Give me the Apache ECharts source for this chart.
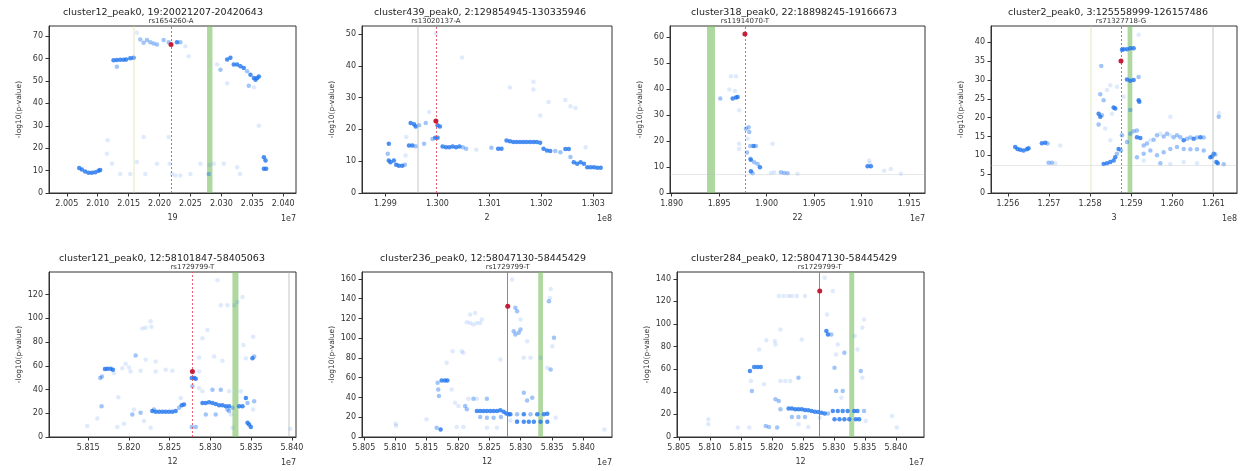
<!DOCTYPE html>
<html><head><meta charset="utf-8">
<script src="https://cdn.jsdelivr.net/npm/echarts@6/dist/echarts.min.js"></script>
<style>html,body{margin:0;padding:0;background:#fff}#c{width:1243px;height:471px}</style>
</head><body><div id="c"></div>
<script>
// ---------------- DATA ----------------
const titles = ['cluster12_peak0, 19:20021207-20420643','cluster439_peak0, 2:129854945-130335946','cluster318_peak0, 22:18898245-19166673','cluster2_peak0, 3:125558999-126157486','cluster121_peak0, 12:58101847-58405063','cluster236_peak0, 12:58047130-58445429','cluster284_peak0, 12:58047130-58445429'];
const rsLabels = ['rs1654260-A','rs13020137-A','rs11914070-T','rs71327718-G','rs1729799-T','rs1729799-T','rs1729799-T'];
const chromNames = ['19','2','22','3','12','12','12'];
const regionStart = [20021207,129854945,18898245,125558999,58101847,58047130,58047130];
const regionEnd = [20420643,130335946,19166673,126157486,58405063,58445429,58445429];
const leadPos = [20218500,129997100,18977100,125875200,58277900,58279300,58277300];
const leadLogP = [66.3,22.6,61.3,35.0,55.2,132.4,129.1];
const greenBands = [[20276800,20285500],null,[18937200,18945600],[125891400,125902800],[58327000,58334400],[58327900,58335400],[58324900,58332900]];
const yMax = [74.5,52.5,64.4,44.3,139,167,146];
const yTicks = [[0,10,20,30,40,50,60,70],[0,10,20,30,40,50],[0,10,20,30,40,50,60],[0,5,10,15,20,25,30,35,40],[0,20,40,60,80,100,120],[0,20,40,60,80,100,120,140,160],[0,20,40,60,80,100,120,140]];
const xTicks = [
 [20050000,20100000,20150000,20200000,20250000,20300000,20350000,20400000],
 [129900000,130000000,130100000,130200000,130300000],
 [18900000,18950000,19000000,19050000,19100000,19150000],
 [125600000,125700000,125800000,125900000,126000000,126100000],
 [58150000,58200000,58250000,58300000,58350000,58400000],
 [58050000,58100000,58150000,58200000,58250000,58300000,58350000,58400000],
 [58050000,58100000,58150000,58200000,58250000,58300000,58350000,58400000]];
const xExp = [7,8,7,8,7,7,7];
// faint extra vertical marks [pos, kind]
const extraLines = [[[20158000,'y']],[[129961500,'g']],[],[[125802100,'y'],[126099200,'g']],[[58396700,'g']],[],[]];
// panels showing the faint significance line
const showSig = [false,false,true,true,false,false,false];
// points: [position, -log10(p), strength class 1..3]
const points1 = [[20070000,11.1,3],[20074300,10.5,3],[20079700,9.6,3],[20085100,9.0,3],[20090500,9.0,3],[20096000,9.3,3],[20101300,9.9,3],[20104000,10.3,3],
[20114800,17.5,1],[20116000,23.5,1],[20123000,13,1],[20136400,8.5,1],[20152600,8.5,1],[20163400,13.8,1],[20177000,8.5,1],[20174200,25,1],[20195800,13,1],[20214700,25,1],[20216400,13,1],[20220000,8.5,1],[20225500,7.8,1],[20233600,7.8,1],[20250000,8.5,1],[20266000,13,1],[20287600,13,1],[20303800,13,1],[20330000,8.5,1],[20325400,11.5,1],
[20125600,59.2,3],[20131000,59.3,3],[20136400,59.4,3],[20141800,59.4,3],[20146000,59.6,3],[20131000,56.3,2],[20152600,60.1,3],[20158000,60.3,3],
[20163400,71.5,1],[20168800,68.5,2],[20174200,67,2],[20179600,68.2,2],[20185000,67.3,2],[20190400,66.7,2],[20195800,66.3,2],[20206600,68.2,2],[20214700,67.3,2],
[20228200,67.3,3],[20233600,67.3,2],[20241700,65.5,1],[20247100,61,1],
[20309300,59.5,3],[20314600,60.3,3],[20320000,57.3,3],[20325400,57.3,3],[20330800,56.5,3],[20336200,55.8,3],[20341600,54.3,2],[20347000,52.8,3],[20352500,51.3,3],[20355200,50.5,3],[20357900,51.3,3],[20360600,52,3],[20344300,47.8,2],[20352500,47.2,1],[20298500,55,2],[20309300,49,1],[20293000,57.3,1],
[20368700,16,3],[20371400,14.5,3],[20368700,10.8,3],[20372400,10.8,3],[20360600,30,1],
[20279500,8.5,2],[20280500,12.5,1]];
const points2 = [[129906500,15.5,3],[129904500,12.3,2],[129906500,10.2,3],[129909700,9.7,3],[129916200,10.2,3],[129920700,8.9,3],[129925900,8.6,3],[129932400,8.6,3],[129937500,8.9,2],
[129938800,11.8,1],[129940100,17.6,1],
[129948500,22,3],[129955000,21.6,3],[129958200,20.9,3],[129964700,21.3,2],
[129945300,14.9,3],[129951800,14.9,3],[129958200,14.7,2],
[129974400,15.5,2],[129977600,22,2],[129984100,25.5,1],
[129990600,17,2],[129995800,17.4,3],[130000300,17.4,3],
[130000300,21.3,3],[130004800,20.9,3],[129997100,50.2,1],
[130010000,14.6,3],[130016500,14.4,3],[130022900,14.4,3],[130029400,14.6,3],[130035900,14.4,3],[130042400,14.6,3],[130048900,14.4,2],[130055300,13.9,2],
[130047600,42.6,1],[130074700,13.6,1],
[130103900,14.2,2],[130116800,13.9,3],[130123300,13.9,3],
[130133000,16.5,3],[130139500,16.3,3],[130146000,16,3],[130152400,16,3],[130158900,16,3],[130165400,16,3],[130171800,16,3],[130178300,16,3],[130184800,16,3],[130191200,16,3],[130197700,15.8,3],
[130139500,33.2,1],[130184800,35,1],[130184800,32.5,1],[130197700,24.4,1],[130213900,28.6,1],[130246200,29.2,1],[130256000,27.3,1],[130265700,26.7,1],
[130204200,13.9,3],[130210700,13.4,3],[130217100,13.2,3],[130226800,13.2,2],[130236600,12.8,2],[130246200,13.8,3],[130252700,13.8,3],
[130256000,11.3,2],[130262400,9.7,3],[130268900,9.2,3],[130275400,9.7,3],[130281900,9.2,3],
[130285100,14.4,1],
[130288300,8.1,3],[130294800,8.1,3],[130301300,8.1,3],[130307700,7.9,3],[130314200,7.9,3]];
const points3 = [[18951200,36.4,2],[18960700,39.9,1],[18962400,45,1],[18967700,45,1],[18964200,36.4,3],[18967700,36.8,3],[18969400,37,3],[18966600,39.3,1],[18971000,31.9,1],[18971000,19,1],[18971000,17,1],
[18978200,24.8,2],[18981000,25.4,2],[18981700,23.5,2],[18979900,20.9,1],[18982700,18.1,2],[18986200,18.1,3],[18988700,18.1,2],
[18979200,15.6,2],[18982700,13.2,2],[18983400,12.8,3],[18986900,11.9,2],[18990500,11.2,2],[18992900,9.9,3],[18983400,8.4,3],[18985200,7.6,2],
[19004500,7.7,1],[19008000,8,1],[19006200,19,1],[19015000,8,2],[19018500,7.7,2],[19022000,7.6,2],[19032500,7.4,1],
[19106200,10.3,3],[19109700,10.3,3],[19107900,12.5,1],[19108500,11.5,1],[19123700,8.6,1],[19130700,9.3,1],[19141200,7.4,1]];
const points4 = [[125617900,12.2,3],[125623500,11.7,3],[125630000,11.5,3],[125638100,11.3,3],[125646300,11.6,3],[125650300,11.9,3],
[125682800,13.2,3],[125690900,13.3,3],[125696600,13.1,2],[125727400,12.6,1],
[125699000,8,2],[125707100,8,2],[125715300,7.9,1],
[125827300,33.7,2],
[125820800,21,3],[125824800,20.2,3],[125828900,20.6,2],[125820800,18.2,2],
[125824800,26.2,2],[125833000,24.6,2],[125841100,27.3,1],[125849200,28.6,1],
[125857300,22.7,3],[125861300,22.4,3],
[125833000,7.7,3],[125841100,7.9,3],[125849200,8.2,3],[125857300,8.6,3],[125861300,9.5,3],[125865400,10.4,2],[125869500,11.7,3],[125875200,11.3,2],
[125877600,38,3],[125881700,38.1,3],[125889800,38.1,3],[125897900,38.4,3],[125906000,38.4,3],
[125889800,30.1,3],[125897900,29.8,3],[125906000,30,3],
[125918200,42,1],[125918200,30.8,2],
[125897900,22,2],[125897900,15.7,2],[125906000,16.4,2],[125914100,16.6,2],
[125918200,24.6,3],[125919800,24.2,3],
[125914100,14.8,3],[125922200,14.6,3],
[125930400,12.6,2],[125938500,13.1,2],[125946600,14,1],[125954700,14.1,2],[125962800,15.3,2],[125971000,15.7,1],[125979100,15,2],[125987200,15.7,2],[125995300,15.3,1],[126003400,14.8,2],[126011500,15.3,2],
[126019600,14.8,2],[126027800,14,3],[126035900,14.4,2],[126044000,14.7,2],[126052100,14.4,3],[126060200,14.7,2],[126068400,14.8,3],[126076500,14.7,2],
[125930400,10.4,2],[125946600,11.3,2],[125962800,10,2],[125979100,10.8,2],[125995300,11.7,2],[126011500,12.2,2],[126027800,11.7,2],[126044000,11.6,2],[126060200,11.6,2],[126076500,11.3,2],
[125914100,9.5,2],[125930400,8.6,1],[125971000,7.9,2],[125995300,7.7,1],[126027800,8.2,1],[126060200,7.9,1],
[125995300,20.2,1],
[126092700,9.5,3],[126096800,9.7,3],[126100800,10.4,3],[126104900,10.2,2],[126107300,8.2,3],[126110600,7.9,3],[126113000,20.2,2],[126113800,21.2,1],[126125200,7.6,2],
[125881700,25.5,1],[125865400,28.2,1],[125853300,21,1],[125877600,15.3,2],[125889800,13.5,2],[125849200,14,1],[125836900,17.1,1]];
const points5 = [[58148800,9.2,1],[58161100,15.6,1],[58166400,26,2],[58164800,49.7,2],[58166800,51,2],
[58170500,57.2,3],[58173400,57.5,3],[58177500,57.5,3],[58180300,56.6,3],[58181600,53.8,1],
[58186900,33.5,1],[58185700,8.4,1],[58194000,11.2,1],
[58191800,58,1],[58195900,61.4,1],[58200000,58.6,1],[58208200,68.6,2],[58204100,19,2],[58206100,23.2,1],
[58202000,55.2,1],[58214300,55.8,1],[58216400,91.5,1],[58220500,92,1],[58226600,97.6,1],[58227500,92.9,1],
[58220500,65,1],[58232800,63.6,1],[58232800,55.2,1],[58245100,56.6,1],[58253300,55.8,1],
[58214300,20.4,2],[58218400,13.4,1],[58226600,7.8,1],
[58228700,21.8,3],[58230700,23.2,2],[58232800,21.2,3],[58236900,21.2,3],[58241000,21.2,3],[58245100,21.2,3],[58249200,21.2,3],[58253300,21.2,3],[58257400,21.8,3],
[58261500,24.6,2],[58264700,26.8,3],[58267600,27.3,3],[58263500,32.9,1],
[58277100,49.7,3],[58280000,49.7,3],[58282000,49.1,3],[58277900,42.7,2],[58286100,41.3,1],[58290200,38.5,1],[58286100,55.2,1],
[58277100,8.4,2],[58282000,8.4,2],
[58286100,67,1],[58290200,83.1,1],[58296300,90.1,1],[58304500,67.8,1],[58308600,132,1],[58312700,111,1],[58320900,111,1],[58314700,64.2,1],[58329100,111,1],[58333200,113.8,1],[58339400,118,1],[58340500,77.6,1],[58343500,66.4,1],[58352400,84.5,1],
[58290200,28.7,3],[58294300,28.7,3],[58298400,29.3,3],[58302500,28.7,3],[58306500,27.9,3],[58310600,26.8,3],[58314700,26.8,3],[58318800,25.9,3],[58322900,25.9,3],[58327000,24.6,2],[58335200,25.9,3],[58339400,25.9,3],
[58320900,23.2,2],[58322900,21.8,2],
[58302500,39.9,2],[58312700,39.9,2],[58322900,38.5,1],[58337300,38.5,1],[58343500,32.9,3],[58345500,28.7,2],
[58306500,19,2],[58294300,19,2],
[58345500,12,3],[58347500,10.6,3],[58349600,8.4,3],
[58353700,30.1,2],[58352400,23.2,1],
[58351600,66.4,3],[58353700,67.8,2],
[58327000,7.8,1],[58398000,7,1],[58325000,19,1]];
const points6 = [[58100800,13.5,1],[58101500,11.5,1],[58149900,17.9,1],
[58166000,9.4,2],[58172400,7.7,3],
[58167600,54.9,2],[58168600,48.2,2],[58169700,41.4,2],
[58174000,57.3,3],[58179300,57.3,3],[58183100,57.3,3],
[58182000,75.1,1],[58191600,86.9,1],[58190000,48.2,1],
[58195400,34.7,1],[58200700,31.3,1],[58206000,86.9,1],[58208700,85.2,1],
[58211400,31.3,2],[58214100,28,2],
[58214100,116.2,1],[58219400,115.5,1],[58224700,113.8,1],[58230100,115.5,1],[58235400,115.5,1],[58238100,118.9,1],[58219400,123.9,1],[58227400,125.6,1],
[58216700,38.7,1],[58224700,38.7,2],[58230100,38.7,1],[58246100,38.7,2],
[58198000,10.1,1],[58208700,10.1,1],
[58230100,26.3,3],[58235400,26.3,3],[58240800,26.3,3],[58246100,26.3,3],[58251500,26.3,3],[58256800,26.3,3],[58262200,26.3,3],[58267500,27,3],[58272800,25.6,3],[58277100,23.9,3],[58280800,22.9,3],[58283500,22.9,3],
[58235400,20.2,2],[58246100,19.5,2],[58256800,19.5,2],[58268500,20.2,2],
[58267500,78.5,1],[58262200,9.4,1],[58246100,9.4,1],
[58291500,130.7,2],[58294200,127.3,2],[58286200,159.3,1],[58299600,118.9,1],
[58288900,107.1,2],[58291500,103.7,2],[58296900,105.4,2],[58299600,108.8,2],
[58304900,80.2,1],[58310200,97,1],[58315600,80.2,1],
[58283500,16.8,1],[58294200,16.2,1],
[58304900,44.8,2],[58310200,37,2],[58318300,39.7,2],
[58294200,22.9,2],[58304900,22.9,3],[58315600,22.9,2],[58326300,22.9,3],[58337000,22.9,3],[58342300,23.6,3],
[58294200,15.5,3],[58304900,15.5,3],[58312900,15.5,3],[58320900,15.5,3],[58331600,15.5,3],[58342300,15.5,3],
[58345000,137.4,2],[58346600,140.8,1],[58347700,149.9,1],[58353000,100.4,2],[58350400,91.9,1],[58342300,70,1],[58347700,68.4,2],[58331600,80.2,1],
[58355700,19.5,1],[58433200,7.7,1]];
const points7 = [[58097600,15.6,1],[58097600,11.2,1],
[58145200,8.3,1],[58163700,8.3,1],
[58164700,58.4,3],[58166300,49.5,1],[58167900,40.7,2],
[58171600,61.9,3],[58176900,61.9,3],[58182200,61.9,3],
[58179500,77.5,1],[58187500,46.6,1],[58191200,85.5,1],
[58190100,9.7,2],[58195400,8.8,2],[58208600,8.3,2],
[58204900,84.9,1],[58205900,81.9,1],[58213900,95.2,1],
[58205900,33.3,2],[58211300,31.8,2],[58213900,24.5,2],
[58213900,49.5,1],[58221800,49.5,1],[58229800,49.5,1],
[58211300,124.7,1],[58219200,124.7,1],[58227100,124.7,1],[58232400,124.7,1],[58240300,124.7,1],[58253500,124.7,1],
[58248300,86.3,1],[58243000,52.5,2],
[58227100,25.3,3],[58232400,25.3,3],[58237700,24.5,3],[58243000,24.5,3],[58248300,24.5,3],[58253500,23.9,3],[58258800,23.6,3],[58264100,23,3],[58269400,22.4,3],[58274700,22.1,3],[58280000,21.5,3],[58285300,20.9,3],[58290600,20.9,2],
[58232400,17.7,2],[58243000,17.7,2],[58253500,17.7,2],[58243000,11.2,1],[58258800,8.8,1],
[58277300,17.1,1],
[58285300,140.9,1],
[58288000,93.7,3],[58290600,90.8,3],[58295900,90.8,2],[58289100,108.5,1],
[58298400,129.1,1],
[58301100,61.3,2],[58303700,73.1,1],[58306400,81.9,1],[58317000,74.6,2],
[58303700,40.7,2],[58314300,40.7,2],[58312200,34.8,1],
[58298400,23,3],[58306400,23,3],[58314300,23,3],[58322300,23,3],[58332900,23,3],[58338100,23,3],
[58301100,15.6,3],[58309100,15.6,3],[58317000,15.6,3],[58324900,15.6,3],[58335500,15.6,3],[58340800,15.6,3],
[58333900,89.3,1],[58338100,77.5,1],[58346000,96.7,1],[58348700,104,1],[58343400,58.4,2],[58346000,52.5,1],
[58348700,23,2],[58351400,14.1,1],
[58393700,18.6,1],[58401600,8.3,1]];
const allPoints = [points1,points2,points3,points4,points5,points6,points7];
const sigLine = 7.3;

// ---------------- LAYOUT / STYLE ----------------
const layout = [
 {left:49,top:26,width:247,height:167,tx:163,ty:13,dash:true},
 {left:362,top:26,width:250,height:167,tx:480,ty:13,dash:true},
 {left:670,top:26,width:255,height:167,tx:794,ty:13,dash:true},
 {left:991,top:26,width:246,height:167,tx:1108,ty:13,dash:true},
 {left:49,top:272,width:247,height:165,tx:162,ty:259,dash:true},
 {left:362,top:272,width:250,height:165,tx:483,ty:259,dash:false},
 {left:677,top:272,width:247,height:165,tx:794,ty:259,dash:false}
];
const FONT = 'DejaVu Sans';
const alphaOf = {1:0.14, 2:0.42, 3:0.8};
const extraColor = {y:'rgba(215,225,150,0.45)', g:'rgba(160,175,165,0.45)'};

const grids=[], xAxes=[], yAxes=[], series=[], graphics=[];
layout.forEach((L,i)=>{
  grids.push({left:L.left,top:L.top,width:L.width,height:L.height,show:true,borderColor:'#333',borderWidth:1,backgroundColor:'rgba(0,0,0,0)',containLabel:false,outerBoundsMode:'none'});
  const exp = xExp[i];
  xAxes.push({gridIndex:i,type:'value',min:regionStart[i],max:regionEnd[i],scale:true,
    axisLine:{show:true,onZero:false,lineStyle:{color:'#333',width:1}},
    axisTick:{show:true,customValues:xTicks[i],length:3.5,lineStyle:{color:'#333'}},
    axisLabel:{customValues:xTicks[i],formatter:v=>(v/Math.pow(10,exp)).toFixed(3),fontSize:8,color:'#333',margin:7,fontFamily:FONT},
    splitLine:{show:false},
    name:chromNames[i],nameLocation:'middle',nameGap:21,nameTextStyle:{fontSize:8,color:'#333',fontFamily:FONT}});
  yAxes.push({gridIndex:i,type:'value',min:0,max:yMax[i],
    axisLine:{show:true,onZero:false,lineStyle:{color:'#333',width:1}},
    axisTick:{show:true,customValues:yTicks[i],length:3.5,lineStyle:{color:'#333'}},
    axisLabel:{customValues:yTicks[i],fontSize:8,color:'#333',margin:6,fontFamily:FONT},
    splitLine:{show:false},
    name:'-log10(p-value)',nameLocation:'middle',nameGap:26,nameRotate:90,nameTextStyle:{fontSize:7.5,color:'#333',fontFamily:FONT}});
  const mlData = [];
  if (showSig[i]) mlData.push({yAxis:sigLine,lineStyle:{color:'rgba(190,190,190,0.35)',width:1,type:'solid'},label:{show:false}});
  extraLines[i].forEach(e=>mlData.push({xAxis:e[0],lineStyle:{color:extraColor[e[1]],width:1.5,type:'solid'},label:{show:false}}));
  mlData.push({xAxis:leadPos[i],lineStyle:{color:'rgba(230,80,100,0.9)',width:1,type:L.dash?[2,2]:'solid'},
    label:{show:true,position:'end',formatter:rsLabels[i],fontSize:7,color:'#333',fontFamily:FONT,distance:1}});
  const ma = greenBands[i] ? {silent:true,itemStyle:{color:'rgba(120,190,95,0.6)'},data:[[{xAxis:greenBands[i][0]},{xAxis:greenBands[i][1]}]]} : undefined;
  series.push({type:'scatter',xAxisIndex:i,yAxisIndex:i,symbolSize:4.5,silent:true,z:3,
    itemStyle:{color:'#1f74ee'},
    data:allPoints[i].map(p=>({value:[p[0],p[1]],itemStyle:{opacity:alphaOf[p[2]]}})),
    markLine:{silent:true,symbol:'none',animation:false,data:mlData},
    markArea:ma});
  series.push({type:'scatter',xAxisIndex:i,yAxisIndex:i,symbolSize:5,silent:true,z:5,
    itemStyle:{color:'#c4122e',opacity:0.95},data:[[leadPos[i],leadLogP[i]]]});
  graphics.push({type:'text',x:L.tx,y:L.ty,style:{text:titles[i],fontSize:9.5,fill:'#222',fontFamily:FONT,textAlign:'center',textVerticalAlign:'middle'}});
  graphics.push({type:'text',x:L.left+L.width,y:L.top+L.height+26,style:{text:'1e'+exp,fontSize:8,fill:'#333',fontFamily:FONT,textAlign:'right',textVerticalAlign:'middle'}});
});

const chart = echarts.init(document.getElementById('c'),null,{renderer:'canvas'});
chart.setOption({animation:false,backgroundColor:'#fff',grid:grids,xAxis:xAxes,yAxis:yAxes,series:series,graphic:graphics});
</script></body></html>
